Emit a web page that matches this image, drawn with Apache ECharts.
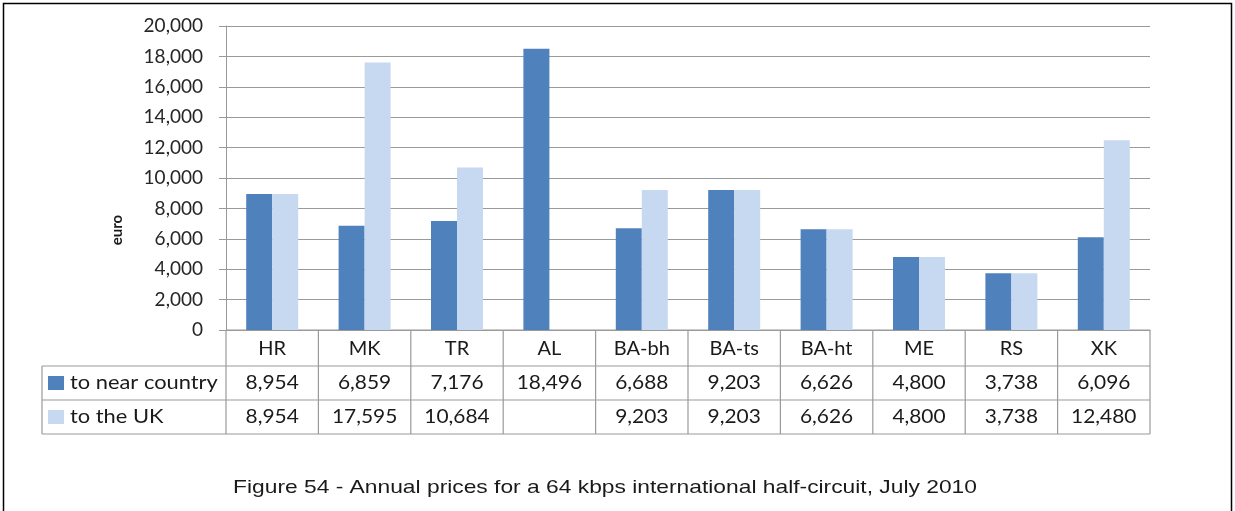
<!DOCTYPE html>
<html><head><meta charset="utf-8">
<script src="https://cdn.jsdelivr.net/npm/echarts@6/dist/echarts.min.js"></script>
<style>html,body{margin:0;padding:0;background:#fff}#c{width:1235px;height:511px}</style>
</head><body><div id="c"></div>
<script>
const categories = ['HR','MK','TR','AL','BA-bh','BA-ts','BA-ht','ME','RS','XK'];
const nearCountry = [8954,6859,7176,18496,6688,9203,6626,4800,3738,6096];
const toUK = [8954,17595,10684,null,9203,9203,6626,4800,3738,12480];
const seriesNames = ['to near country','to the UK'];
const seriesColors = ['#4f81bd','#c6d9f1'];
const yMin = 0, yMax = 20000, yStep = 2000;
const yAxisName = 'euro';
const caption = 'Figure 54 - Annual prices for a 64 kbps international half-circuit, July 2010';

const FONT = 'Lato';
const fmt = v => v == null ? '' : v.toLocaleString('en-US');
const chart = echarts.init(document.getElementById('c'));
const GL = 226, GR = 1150, GT = 26, GB = 330;
chart.setOption({
  animation: false,
  grid: {left: GL, right: 1235 - GR, top: GT, bottom: 511 - GB, containLabel: false},
  xAxis: {type: 'category', data: categories,
    axisLine: {show: true, lineStyle: {color: '#9a9a9a'}},
    axisTick: {show: false},
    axisLabel: {margin: 19, verticalAlign: 'middle', fontFamily: FONT, fontSize: 20, color: '#1a1a1a'}},
  yAxis: {type: 'value', min: yMin, max: yMax, interval: yStep,
    axisLine: {show: true, lineStyle: {color: '#9a9a9a'}},
    axisTick: {show: true, length: 7, lineStyle: {color: '#9a9a9a'}},
    axisLabel: {formatter: v => fmt(v), fontFamily: FONT, fontSize: 19, color: '#262626', margin: 23},
    splitLine: {show: true, lineStyle: {color: '#9a9a9a', width: 1}}},
  series: [
    {name: seriesNames[0], type: 'bar', data: nearCountry, barWidth: 26, barGap: '0%', itemStyle: {color: seriesColors[0]}},
    {name: seriesNames[1], type: 'bar', data: toUK, barWidth: 26, barGap: '0%', itemStyle: {color: seriesColors[1]}}
  ]
});

// build data table below the axis
const centers = categories.map(c => chart.convertToPixel({xAxisIndex: 0}, c));
const cw = centers[1] - centers[0];
const x0 = centers[0] - cw / 2, x1 = centers[centers.length - 1] + cw / 2;
const rowY = [GB, 366, 400, 434];
const legL = 42;
const border = {stroke: '#9a9a9a', lineWidth: 1.2};
const g = [];
g.push({type: 'line', shape: {x1: x0, y1: rowY[0], x2: x1, y2: rowY[0]}, style: border});
for (let r = 1; r < rowY.length; r++) g.push({type: 'line', shape: {x1: legL, y1: rowY[r], x2: x1, y2: rowY[r]}, style: border});
for (let i = 0; i <= categories.length; i++) {
  const x = x0 + i * cw;
  g.push({type: 'line', shape: {x1: x, y1: rowY[0], x2: x, y2: rowY[3]}, style: border});
}
g.push({type: 'line', shape: {x1: legL, y1: rowY[1], x2: legL, y2: rowY[3]}, style: border});
const rows = [nearCountry, toUK];
const TS = 1.1;
rows.forEach((arr, r) => {
  const yc = (rowY[r + 1] + rowY[r + 2]) / 2;
  g.push({type: 'rect', shape: {x: legL + 6, y: yc - 7, width: 16, height: 14}, style: {fill: seriesColors[r]}});
  g.push({type: 'text', x: legL + 28, y: yc, scaleX: 1.15, style: {x: 0, y: 0, text: seriesNames[r], font: '19px ' + FONT, fill: '#1a1a1a', textVerticalAlign: 'middle'}});
  arr.forEach((v, i) => {
    g.push({type: 'text', x: centers[i], y: yc, scaleX: TS, style: {x: 0, y: 0, text: fmt(v), font: '19px ' + FONT, fill: '#1a1a1a', textAlign: 'center', textVerticalAlign: 'middle'}});
  });
});
g.push({type: 'text', rotation: Math.PI / 2, x: 117, y: 230, style: {x: 0, y: 0, text: yAxisName, font: 'bold 15px ' + FONT, fill: '#1a1a1a', textAlign: 'center', textVerticalAlign: 'middle'}});
g.push({type: 'text', x: 605, y: 488, scaleX: 1.2, style: {x: 0, y: 0, text: caption, font: '19px "Liberation Sans"', fill: '#1a1a1a', textAlign: 'center', textVerticalAlign: 'middle'}});
g.push({type: 'rect', shape: {x: 3.5, y: 3.5, width: 1228, height: 520}, style: {fill: 'none', stroke: '#000', lineWidth: 1.5}});
chart.setOption({graphic: g});
</script></body></html>
